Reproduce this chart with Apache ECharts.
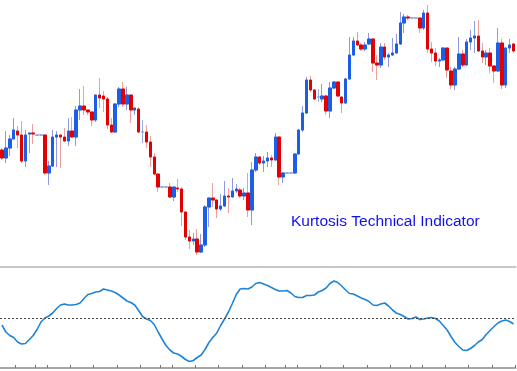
<!DOCTYPE html>
<html>
<head>
<meta charset="utf-8">
<script src="https://cdn.jsdelivr.net/npm/echarts@6/dist/echarts.min.js"></script>
<style>
html,body{margin:0;padding:0;background:#fff;}
#c{width:517px;height:371px;}
</style>
</head>
<body>
<div id="c"></div>
<script>
// price levels (arbitrary price units)
const opens = [150,142,152,161,169,165,139,166,167,165,165,165,127,134,163,165,163,159,169,163,190,194,190,188,180,205,204,201,175,168,196,211,196,205,190,191,168,168,158,143,126,113,113,113,103,112,111,88,63,59,61,48,55,93,102,100,91,94,104,103,109,110,104,107,90,130,143,137,139,142,140,163,123,127,127,127,146,170,187,220,210,203,201,204,189,212,218,203,197,221,245,259,255,251,256,261,237,235,253,243,245,247,256,277,283,282,282,282,272,287,251,247,239,240,252,229,215,231,246,235,258,262,264,249,243,247,234,229,257,215,252,256];
const closes = [142,152,161,170,165,139,165,167,166,165,165,127,134,163,165,163,159,169,163,190,194,190,188,180,205,202,201,175,168,196,211,196,205,190,192,168,168,158,143,126,113,113,113,103,113,111,88,63,59,61,48,55,93,102,100,91,94,104,103,109,111,104,107,90,130,143,137,139,142,140,163,123,127,127,127,146,170,187,220,210,201,203,204,189,212,218,204,197,221,245,259,255,251,255,261,237,235,253,243,245,247,256,277,283,282,282,282,272,287,251,247,239,240,252,230,215,231,246,235,258,262,264,249,243,247,234,229,257,215,252,255,249];
const lows = [140,137,144,161,152,137,133,147,156,165,165,125,115,133,133,132,158,154,162,154,180,185,185,174,178,192,188,171,167,167,193,193,190,177,185,167,157,152,133,125,108,113,113,102,99,108,74,60,51,55,45,47,53,73,93,82,89,93,87,103,107,102,100,83,75,128,135,128,133,133,139,115,117,127,127,126,145,168,186,208,200,198,198,185,182,211,203,187,196,220,244,254,249,249,255,228,220,232,240,233,244,247,255,267,280,282,282,267,270,247,238,234,233,239,222,211,210,230,233,234,250,247,248,237,235,227,217,228,211,212,247,247];
const highs = [152,169,165,182,174,179,170,167,176,165,165,165,139,170,169,165,172,182,183,194,211,214,190,188,205,222,209,203,182,197,213,218,213,205,192,193,180,175,164,147,126,113,113,117,113,121,113,88,70,67,71,66,95,102,117,100,106,119,112,122,116,112,112,127,138,147,143,144,148,145,167,163,128,127,127,147,171,194,223,224,211,211,216,205,218,219,219,204,222,263,263,268,257,258,267,261,245,257,257,247,262,266,288,286,285,282,282,282,290,295,258,252,242,253,252,233,233,263,250,261,270,279,280,257,250,252,235,272,261,253,261,257];
// kurtosis indicator values per bar
const kurtosis = [-0.7,-1.4,-1.75,-1.95,-2.4,-2.6,-2.55,-2.15,-1.75,-1.15,-0.4,0,0.2,0.5,0.95,1.3,1.4,1.3,1.3,1.35,1.5,1.95,2.35,2.45,2.6,2.65,2.9,2.8,2.7,2.55,2.3,2.0,1.7,1.55,1.3,0.75,0.15,-0.1,-0.25,-0.65,-1.4,-2.1,-2.75,-3.2,-3.5,-3.6,-3.85,-4.15,-4.35,-4.25,-3.95,-3.7,-3.15,-2.45,-1.95,-1.5,-0.75,-0.1,0.6,1.45,2.35,2.9,2.95,2.9,3.1,3.45,3.55,3.4,3.25,3.05,2.85,2.7,2.7,2.75,2.5,2.15,2.05,2.05,2.25,2.25,2.3,2.6,2.75,3.0,3.45,3.7,3.55,3.2,2.8,2.45,2.4,2.2,2.0,1.85,1.65,1.3,1.25,1.4,1.5,1.2,0.8,0.5,0.35,0.15,-0.1,-0.05,0.1,-0.15,-0.1,0,0.05,-0.05,-0.3,-0.75,-1.2,-1.85,-2.45,-2.85,-3.2,-3.25,-3.05,-2.75,-2.4,-2.15,-1.65,-1.25,-0.85,-0.5,-0.3,-0.2,-0.35,-0.6];
// bar indices where the period separator ticks sit
const tickBars = [4,9,12,18,24,30,36,41,44,50,56,62,68,73,76,82,88,94,100,105,108,114,120,126];
const categories = opens.map((_, i) => 'Bar ' + (i + 1));
const titleText = 'Kurtosis Technical Indicator';

const wickData = opens.map((o, i) => [o, closes[i], lows[i], highs[i]]);
const bodyData = opens.map((o, i) => [o, closes[i], Math.min(o, closes[i]), Math.max(o, closes[i])]);

const BAR = 3.92;
const N = categories.length;
const gridLeft = -BAR / 2;
const gridWidth = N * BAR;

const chart = echarts.init(document.getElementById('c'), null, {renderer: 'canvas'});
chart.setOption({
  animation: false,
  backgroundColor: '#ffffff',
  title: {
    text: titleText, left: 291, top: 214, padding: 0,
    textStyle: {fontFamily: 'Liberation Sans', fontSize: 15.5, fontWeight: 'normal', color: '#1111ee'}
  },
  grid: [
    {left: gridLeft, width: gridWidth, top: 0, height: 267},
    {left: gridLeft, width: gridWidth, top: 268, height: 100}
  ],
  xAxis: [
    {type: 'category', gridIndex: 0, data: categories, boundaryGap: true,
     axisLine: {show: true, onZero: false, lineStyle: {color: '#c8c8c8', width: 2}},
     axisTick: {show: false}, axisLabel: {show: false}, splitLine: {show: false}},
    {type: 'category', gridIndex: 1, data: categories, boundaryGap: true,
     axisLine: {show: true, onZero: false, lineStyle: {color: '#a8a8a8', width: 2}},
     axisTick: {show: true, inside: true, length: 3, lineStyle: {color: '#777', width: 1},
       interval: (idx) => tickBars.includes(idx)},
     axisLabel: {show: false}, splitLine: {show: false}}
  ],
  yAxis: [
    {type: 'value', gridIndex: 0, min: 33, max: 300, show: false, splitLine: {show: false}},
    {type: 'value', gridIndex: 1, min: -5, max: 5, show: false, splitLine: {show: false}}
  ],
  series: [
    {type: 'candlestick', xAxisIndex: 0, yAxisIndex: 0, data: wickData, barWidth: 3,
     itemStyle: {color: '#8e9ae2', color0: '#ec9f9f', borderColor: '#8e9ae2', borderColor0: '#ec9f9f',
       borderColorDoji: '#9aaae6', borderWidth: 1}},
    {type: 'candlestick', xAxisIndex: 0, yAxisIndex: 0, data: bodyData, barWidth: 3,
     itemStyle: {color: '#1a5fe6', color0: '#e30000', borderColor: '#1a5fe6', borderColor0: '#e30000',
       borderColorDoji: '#8fa3e6', borderWidth: 1}},
    {type: 'line', xAxisIndex: 1, yAxisIndex: 1, data: kurtosis, showSymbol: false, symbol: 'none',
     lineStyle: {color: '#1f84d6', width: 1.6},
     markLine: {silent: true, symbol: 'none', label: {show: false},
       lineStyle: {color: '#444', type: [2, 2], width: 1},
       data: [{yAxis: 0}]}}
  ]
});
</script>
</body>
</html>
